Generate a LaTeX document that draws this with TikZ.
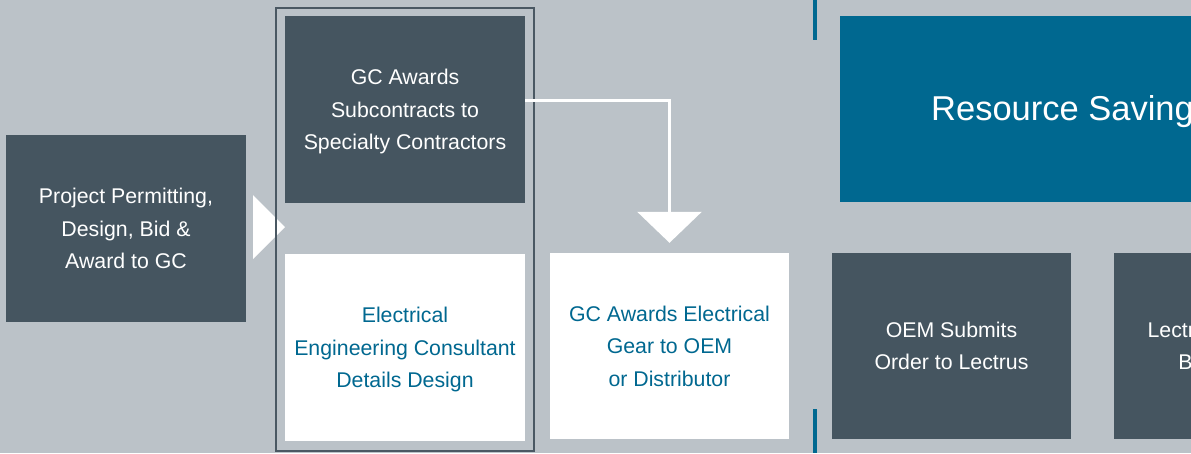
\documentclass[tikz,border=0pt]{standalone}
\usepackage{fontspec}
\setmainfont{Liberation Sans}
\usetikzlibrary{arrows.meta}
\definecolor{bg}{HTML}{BBC2C8}
\definecolor{dark}{HTML}{455560}
\definecolor{blu}{HTML}{006890}
\definecolor{frm}{HTML}{4A5863}
\tikzset{
  box/.style={rectangle, inner sep=0pt, minimum width=240pt, minimum height=187pt, align=center,
    font=\fontsize{21.3}{32.5}\selectfont, text depth=-4pt},
  darkbox/.style={box, fill=dark, text=white},
  whitebox/.style={box, fill=white, text=blu},
  flow/.style={draw=white, line width=3pt, -{Triangle[width=64pt,length=31pt]}},
  bluebar/.style={draw=blu, line width=4.5pt}
}
\begin{document}
\begin{tikzpicture}[x=1pt,y=-1pt]
\useasboundingbox (0,0) rectangle (1191,453);
\fill[bg] (0,0) rectangle (1191,453);
\clip (0,0) rectangle (1191,453);
% left box
\node[darkbox] (a) at (126,228.5) {Project Permitting,\\Design, Bid \&\\Award to GC};
% white triangle arrow
\fill[white] (253,195) -- (285,227) -- (253,259) -- cycle;
% boxes in frame
\node[darkbox] (gc) at (405,109.5) {GC Awards\\Subcontracts to\\Specialty Contractors};
\node[whitebox] (ee) at (405,347.5) {Electrical\\Engineering Consultant\\Details Design};
\node[draw=frm, line width=2pt, inner sep=0pt, minimum width=258pt, minimum height=443pt] (grp) at (405,229.5) {};
% GC awards electrical
\node[whitebox, minimum width=239pt, minimum height=186pt] (gce) at (669.5,346) {GC Awards Electrical\\Gear to OEM\\or Distributor};
\draw[flow] ([yshift=9.5pt]gc.east) -| ([yshift=10pt]gce.north);
% blue bars
\coordinate (b1) at (815,0);
\coordinate (b2) at (815,40);
\coordinate (b3) at (815,409);
\coordinate (b4) at (815,453);
\draw[bluebar] (b1) -- (b2);
\draw[bluebar] (b3) -- (b4);
% resource savings
\node[rectangle, fill=blu, inner sep=0pt, minimum width=460pt, minimum height=186pt] (rs) at (1070,109) {};
\node[anchor=west, inner sep=0pt, text=white, font=\fontsize{34.5}{40}\selectfont] (rst) at (931,112) {Resource Savings};
% right boxes
\node[darkbox, minimum width=239pt, minimum height=186pt] (oem) at (951.5,346) {OEM Submits\\Order to Lectrus};
\node[darkbox, minimum width=240pt, minimum height=186pt] (lec) at (1234,346) {Lectrus Designs \&\\Builds Gear};
\end{tikzpicture}
\end{document}
